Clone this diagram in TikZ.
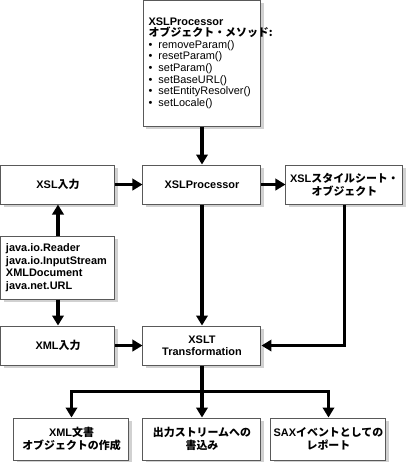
\documentclass[tikz,border=0pt]{standalone}
\usepackage{fontspec}
\setmainfont{Liberation Sans}
\newfontfamily\jpfont{Noto Sans CJK JP}
\newcommand{\jt}[1]{{\jpfont #1}}
\usetikzlibrary{arrows.meta,positioning,shadows}
\hyphenpenalty=10000

\begin{document}
\begin{tikzpicture}[>={Triangle[length=7.5pt,width=8.5pt]},thick,
  box/.style={draw=black!65,line width=0.75pt,fill=white,align=center,
    minimum height=29.25pt,inner xsep=1pt,inner ysep=2pt,
    font=\bfseries\fontsize{8.2}{9.4}\selectfont,
    drop shadow={shadow xshift=2.25pt,shadow yshift=-2.25pt,fill=black!18,opacity=1}},
  link/.style={->,line width=2.3pt}]

  \useasboundingbox (-151.5pt,-208.1pt) rectangle (152.25pt,138.4pt);

  \node[box,minimum width=88.5pt] (proc) at (0,0) {XSLProcessor};
  \node[box,minimum width=85.5pt] (xslin) [left=20.25pt of proc] {XSL\jt{入力}};
  \node[box,minimum width=87.75pt] (sheet) [right=18pt of proc] {XSL\jt{スタイルシート・}\\\jt{オブジェクト}};
  \node[box,minimum width=87.75pt,minimum height=94.5pt,text width=80pt,
    inner xsep=4pt,align=left,font=\bfseries\fontsize{8.2}{8.7}\selectfont]
    (meth) [above=28.5pt of proc] {XSLProcessor\\\jt{オブジェクト・メソッド:}\\\mdseries
    \textbullet\hspace{4.5pt}removeParam()\\
    \textbullet\hspace{4.5pt}resetParam()\\
    \textbullet\hspace{4.5pt}setParam()\\
    \textbullet\hspace{4.5pt}setBaseURL()\\
    \textbullet\hspace{4.5pt}setEntityResolver()\\
    \textbullet\hspace{4.5pt}setLocale()};
  \node[box,minimum width=85.5pt,minimum height=47.25pt,text width=78pt,
    inner xsep=3.75pt,align=left] (java) [below=23.25pt of xslin]
    {java.io.Reader\\java.io.InputStream\\XMLDocument\\java.net.URL};
  \node[box,minimum width=88.5pt] (xslt) [below=90.75pt of proc] {XSLT\\Transformation};
  \node[box,minimum width=85.5pt] (xmlin) [left=20.25pt of xslt] {XML\jt{入力}};

  \node[box,minimum width=88.5pt,minimum height=31.5pt] (out2) [below=39pt of xslt] {\jt{出力ストリームへの}\\\jt{書込み}};
  \node[box,minimum width=86.25pt,minimum height=31.5pt] (out1) [left=9.75pt of out2] {XML\jt{文書}\\\jt{オブジェクトの作成}};
  \node[box,minimum width=86.25pt,minimum height=31.5pt] (out3) [right=6.75pt of out2] {SAX\jt{イベントとしての}\\\jt{レポート}};

  \coordinate[below=19.5pt of xslt] (fork);

  \path[link]
    (meth) edge (proc)
    (xslin) edge (proc)
    (proc) edge (sheet)
    (java) edge (xslin)
    (java) edge (xmlin)
    (xmlin) edge (xslt)
    (proc) edge (xslt)
    (xslt) edge (out2);

  \draw[link] (sheet) |- (xslt);
  \draw[link] (fork) -| (out1);
  \draw[link] (fork) -| (out3);

\end{tikzpicture}
\end{document}
